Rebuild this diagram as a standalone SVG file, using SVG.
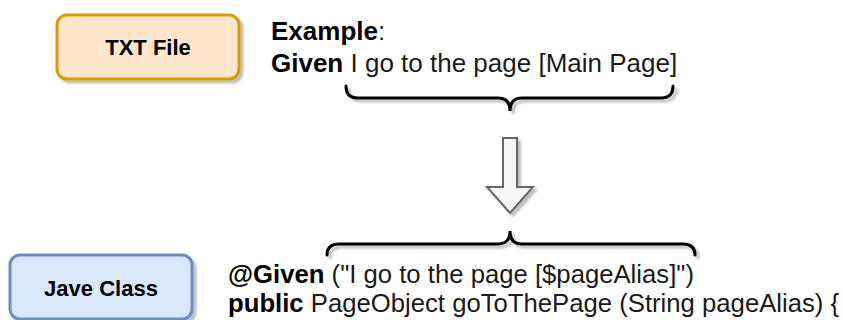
<svg xmlns="http://www.w3.org/2000/svg" width="843" height="320" viewBox="0 0 843 320">
  <defs>
    <filter id="sh" x="-10%" y="-10%" width="130%" height="140%">
      <feDropShadow dx="3" dy="3" stdDeviation="1" flood-color="#000" flood-opacity="0.25"/>
    </filter>
    <style>
      .box { stroke-width: 3; filter: url(#sh); }
      .lbl { font-family: "Liberation Sans", Arial, sans-serif; font-weight: bold; font-size: 22px; fill: #000; text-anchor: middle; }
      .txt { font-family: "Liberation Sans", Arial, sans-serif; font-size: 25.7px; fill: #1a1a1a; }
      .top { font-size: 26px; }
      .b { font-weight: bold; fill: #000; }
      .brace { fill: none; stroke: #000; stroke-width: 3; stroke-linecap: round; filter: url(#sh); }
    </style>
  </defs>
  <rect width="843" height="320" fill="#fff"/>

  <g id="txt-file">
    <rect class="box" x="57" y="15" width="182" height="64" rx="10" fill="#ffe6cc" stroke="#d79b00"/>
    <text class="lbl" x="148" y="55">TXT File</text>
  </g>

  <g id="example-text">
    <text class="txt top" x="271" y="40"><tspan class="b">Example</tspan>:</text>
    <text class="txt top" x="271" y="72"><tspan class="b">Given</tspan> I go to the page [Main Page]</text>
  </g>

  <g id="top-brace">
    <path class="brace" d="M346,86 Q346,98 358,98 L498,98 Q510,98 510,111 Q510,98 522,98 L661,98 Q673,98 673,86"/>
  </g>

  <g id="connectors">
    <polygon points="503,138 517,138 517,187 533,187 510,213 487,187 503,187" fill="#f5f5f5" stroke="#666" stroke-width="2" stroke-linejoin="miter" filter="url(#sh)"/>
  </g>

  <g id="bottom-brace">
    <path class="brace" d="M327,255 Q327,244 339,244 L498,244 Q510,244 510,231 Q510,244 522,244 L683,244 Q695,244 695,255"/>
  </g>

  <g id="jave-class">
    <rect class="box" x="10" y="255" width="182" height="64" rx="10" fill="#dae8fc" stroke="#6c8ebf"/>
    <text class="lbl" x="101" y="296">Jave Class</text>
  </g>

  <g id="java-code">
    <text class="txt" x="228" y="283"><tspan class="b">@Given</tspan> ("I go to the page [$pageAlias]")</text>
    <text class="txt" x="228" y="312"><tspan class="b">public</tspan> PageObject goToThePage (String pageAlias) {</text>
  </g>
</svg>
